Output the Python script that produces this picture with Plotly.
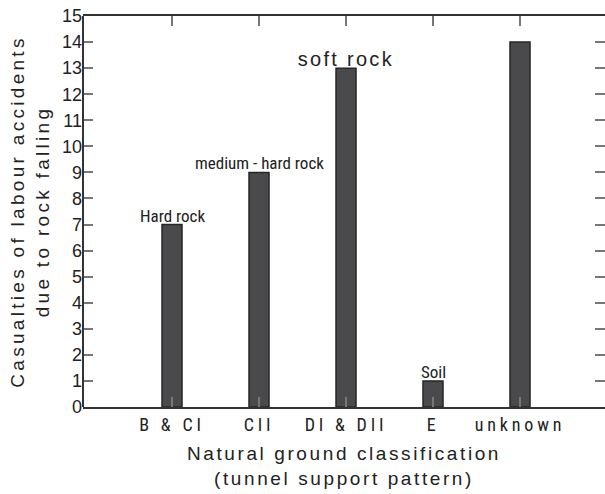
import plotly.graph_objects as go

categories = ["B & CI", "CII", "DI & DII", "E", "unknown"]
casualties = [7, 9, 13, 1, 14]
labels = ["Hard rock", "medium - hard rock", "soft rock", "Soil", ""]
y_ticks = list(range(0, 16))

fig = go.Figure()
fig.add_trace(go.Bar(
    x=categories, y=casualties, width=0.23,
    marker=dict(color="#4a4a4c", line=dict(color="#262626", width=1.5)),
    hoverinfo="skip",
))

narrow = "Liberation Sans Narrow, Arial Narrow, Roboto Condensed, sans-serif"
for cat, val, lab in zip(categories, casualties, labels):
    if not lab:
        continue
    big = lab == "soft rock"
    fig.add_annotation(
        x=cat, y=val, xref="x", yref="y", text=lab, showarrow=False,
        yanchor="bottom", yshift=-3 if big else -2, borderpad=0,
        font=dict(family="Liberation Sans" if big else narrow,
                  size=20 if big else 17, color="#222"),
    )

# left frame line (right side is cut off in the reference)
fig.add_shape(type="line", xref="paper", yref="paper", x0=0, x1=0, y0=0, y1=1,
              line=dict(color="#333", width=2))

fig.update_layout(
    width=605, height=494,
    margin=dict(l=83, r=0, t=16, b=87),
    plot_bgcolor="white", paper_bgcolor="white",
    showlegend=False,
    xaxis=dict(
        type="category", categoryorder="array", categoryarray=categories,
        range=[-1.023, 4.977],
        showline=True, linecolor="#333", linewidth=2, mirror="ticks",
        ticks="inside", ticklen=10, tickcolor="#777", tickwidth=1.5,
        tickfont=dict(family=narrow, size=18, color="#222"),
        showgrid=False, zeroline=False,
        title=dict(text="Natural ground classification<br>(tunnel support pattern)",
                   font=dict(family="Liberation Sans", size=19, color="#222"), standoff=13),
    ),
    yaxis=dict(
        range=[0, 15], tickvals=y_ticks,
        showline=False, mirror="ticks",
        ticks="inside", ticklen=10, tickcolor="#777", tickwidth=1.5,
        tickfont=dict(family="Liberation Sans", size=18, color="#222"),
        showgrid=False, zeroline=False,
        title=dict(text="Casualties of labour accidents<br>due to rock falling",
                   font=dict(family="Liberation Sans", size=19, color="#222"), standoff=7),
    ),
)

css = (
    "body{margin:0;}"
    ".xtitle{letter-spacing:2.6px;}"
    ".ytitle{letter-spacing:3.3px;}"
    ".xtick text{letter-spacing:3.8px;}"
    ".annotation[data-index='2'] text{letter-spacing:2.3px;}"
)
post = (
    "var s=document.createElement('style');"
    "s.textContent=\"" + css + "\";"
    "document.head.appendChild(s);"
)

fig.write_html("out.html", post_script=post, config={"displayModeBar": False})
